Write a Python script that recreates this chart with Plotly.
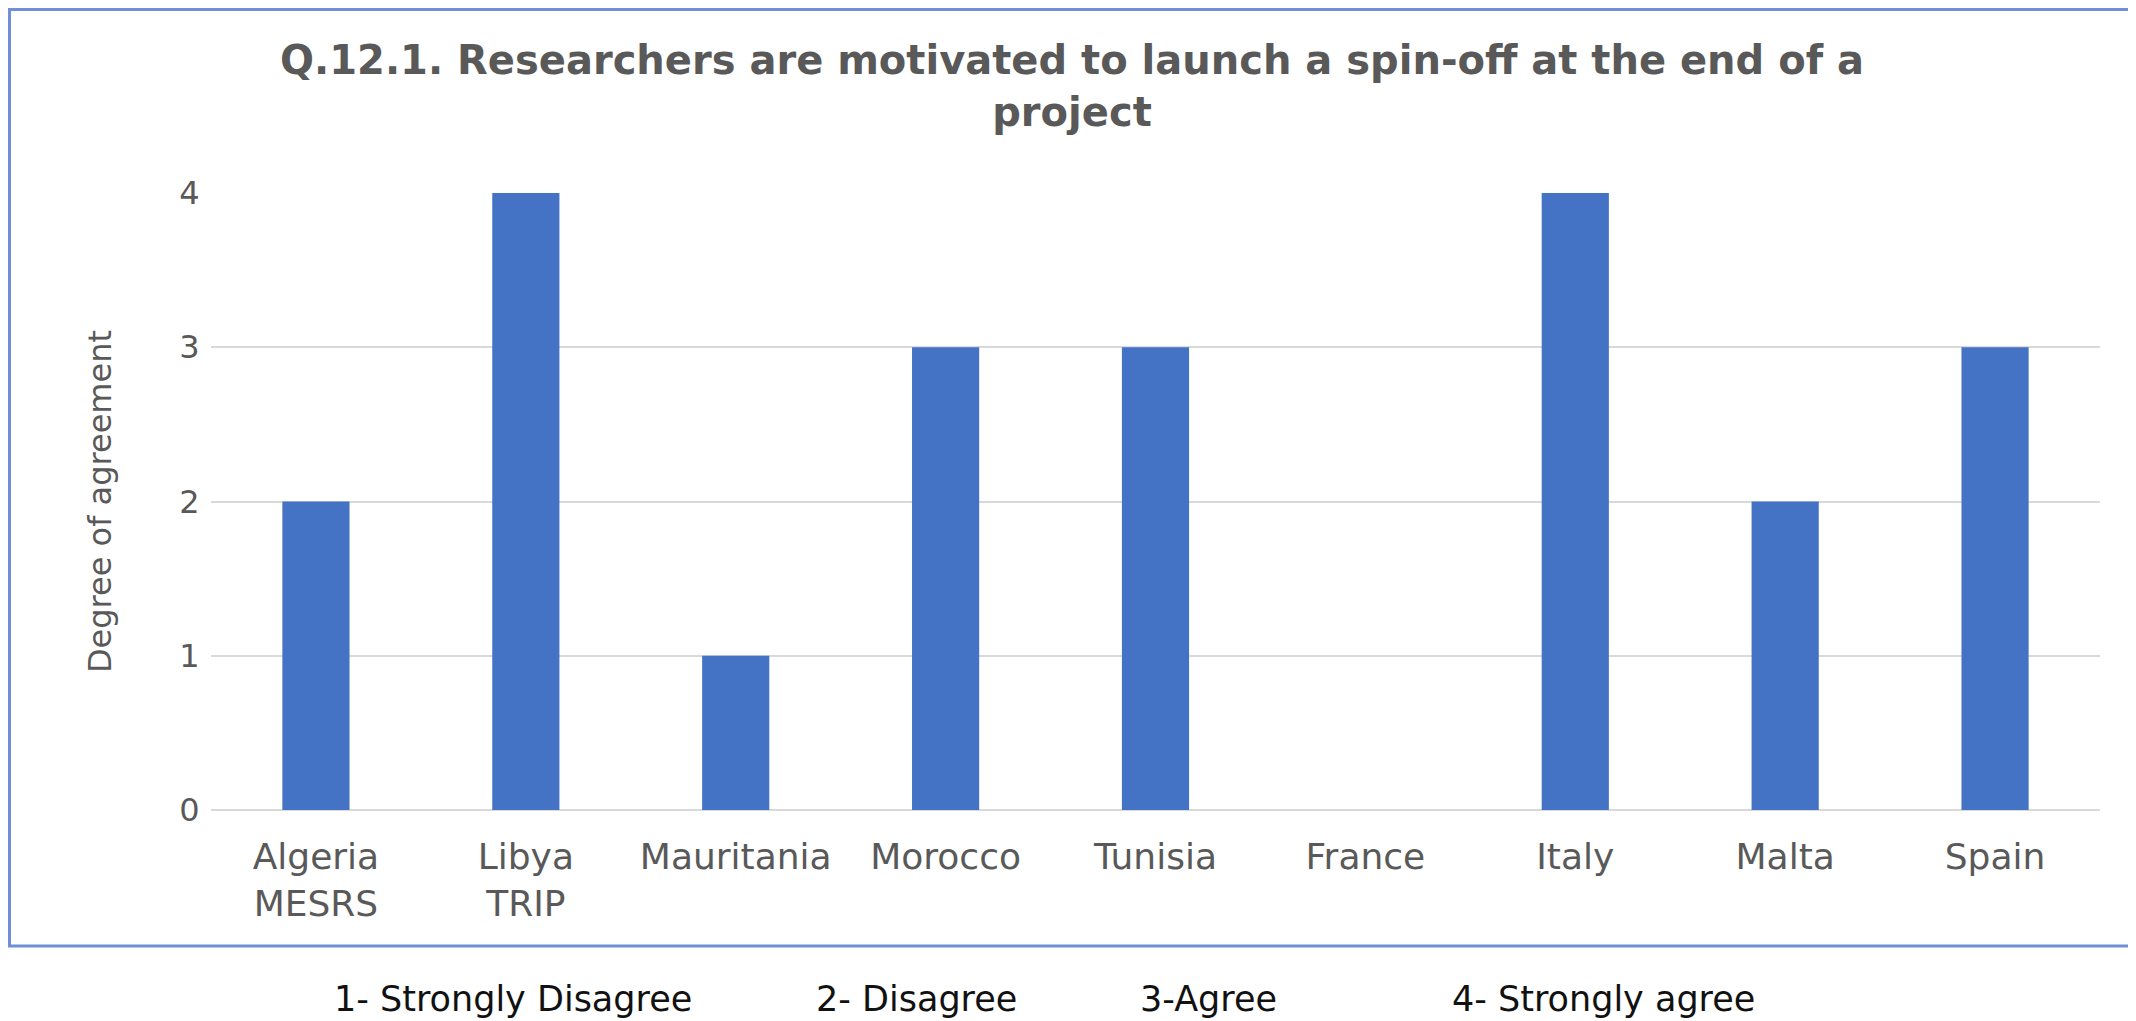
import plotly.graph_objects as go

countries = ["Algeria<br>MESRS", "Libya<br>TRIP", "Mauritania", "Morocco", "Tunisia",
             "France", "Italy", "Malta", "Spain"]
agreement = [2, 4, 1, 3, 3, 0, 4, 2, 3]
y_ticks = [0, 1, 2, 3, 4]
scale_labels = ["1- Strongly Disagree", "2- Disagree", "3-Agree", "4- Strongly agree"]

# the page puts the figure 8px in from the top-left corner
W, H = 2128, 1013
L, R, T, B = 203, 36, 185, 211
PW, PH = W - L - R, H - T - B


def px(x):
    return (x - L) / PW


def py(y):
    return (H - B - y) / PH


FONT = "DejaVu Sans"
GREY = "#595959"

fig = go.Figure()

fig.add_trace(go.Bar(
    x=countries, y=agreement,
    marker=dict(color="#4472C4", line=dict(width=0)),
    width=0.32,
))

fig.update_layout(
    width=W, height=H,
    margin=dict(l=L, r=R, t=T, b=B, autoexpand=False),
    paper_bgcolor="white", plot_bgcolor="white",
    showlegend=False,
    font=dict(family=FONT, color=GREY),
    title=dict(
        text="<b>Q.12.1. Researchers are motivated to launch a spin-off at the end of a<br>project</b>",
        x=0.5, xanchor="center", y=1 - 66 / H, yanchor="top",
        font=dict(size=40, color=GREY, family=FONT),
    ),
)

fig.update_xaxes(
    tickfont=dict(size=36, color=GREY),
    ticks="outside", ticklen=15, tickcolor="rgba(0,0,0,0)",
    showline=False, showgrid=False,
)
fig.update_yaxes(
    range=[0, 4], tickvals=y_ticks,
    tickfont=dict(size=32, color=GREY),
    showgrid=True, gridcolor="#D9D9D9", gridwidth=2,
    zeroline=True, zerolinecolor="#D9D9D9", zerolinewidth=2,
    ticks="outside", ticklen=4, tickcolor="rgba(0,0,0,0)",
    title=dict(text="Degree of agreement", font=dict(size=32, color=GREY, family=FONT),
               standoff=58),
)

# outer chart border (right side runs off the picture)
fig.add_shape(type="rect", xref="paper", yref="paper",
              x0=px(1.5), x1=px(W + 20), y0=py(938), y1=py(1.5),
              line=dict(color="#6F8FD6", width=3), fillcolor="rgba(0,0,0,0)", layer="below")

for lab, x in zip(scale_labels, [324, 806, 1130, 1442]):
    fig.add_annotation(text=lab, x=px(x), y=py(991), xref="paper", yref="paper",
                       xanchor="left", yanchor="middle", showarrow=False,
                       font=dict(size=35, color="#111111", family=FONT))

fig.write_html("out.html")
